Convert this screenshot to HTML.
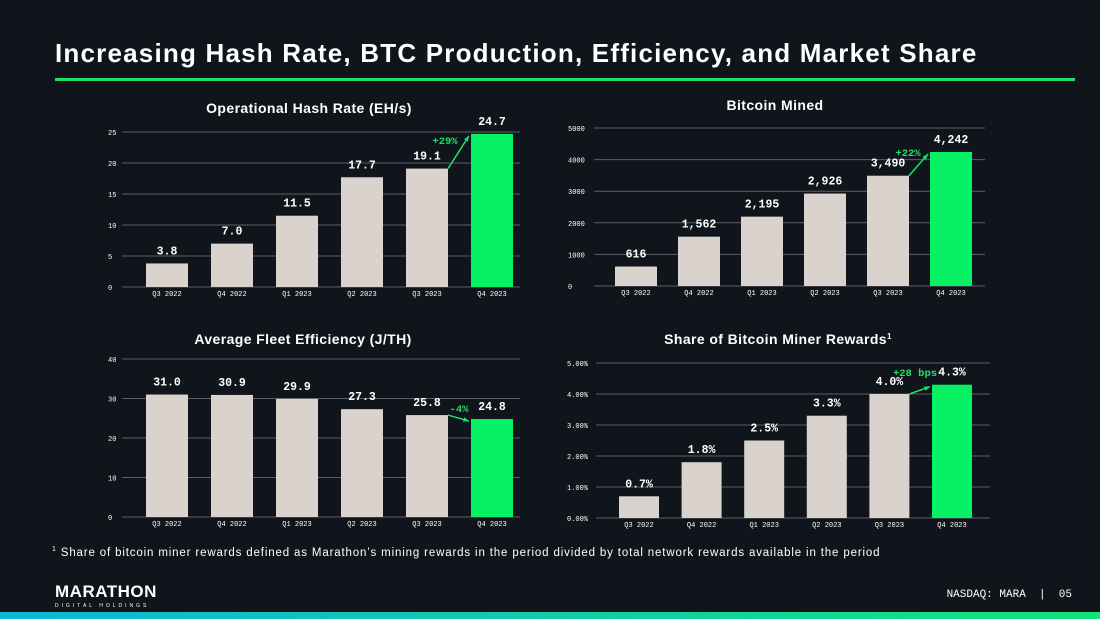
<!DOCTYPE html>
<html><head><meta charset="utf-8"><style>
body{margin:0;width:1100px;height:619px;background:#10151b;overflow:hidden;position:relative;font-family:"Liberation Sans",sans-serif}
#title{position:absolute;left:55px;top:38px;font-size:26px;font-weight:bold;color:#fff;margin:0;letter-spacing:1.2px;white-space:nowrap}
#rule{position:absolute;left:55px;top:78px;width:1020px;height:3px;background:#1fe06a}
#foot{position:absolute;left:52px;top:546px;font-size:11.5px;color:#fff;letter-spacing:0.85px;white-space:nowrap}
#logo{position:absolute;left:55px;top:585px;color:#fff;font-weight:bold;font-size:17px;letter-spacing:0.5px;line-height:14px}
#logo small{display:block;font-size:5px;letter-spacing:3px;font-weight:normal}
#nasdaq{position:absolute;right:28px;top:589px;color:#fff;font-family:"Liberation Mono",monospace;font-size:11px;white-space:pre}
#bar{position:absolute;left:0;top:612px;width:1100px;height:7px;background:linear-gradient(90deg,#10b5d8,#14e37a)}
svg{position:absolute;left:0;top:0}
</style></head><body>
<h1 id="title">Increasing Hash Rate, BTC Production, Efficiency, and Market Share</h1>
<div id="rule"></div>
<svg id="c" width="1100" height="619"></svg>
<div id="foot"><sup style="font-size:7px">1</sup> Share of bitcoin miner rewards defined as Marathon’s mining rewards in the period divided by total network rewards available in the period</div>
<div id="logo">MARATHON<small>DIGITAL HOLDINGS</small></div>
<div id="nasdaq">NASDAQ: MARA  |  05</div>
<div id="bar"></div>
<script>
const categories=["Q3 2022","Q4 2022","Q1 2023","Q2 2023","Q3 2023","Q4 2023"];
const hashRate=[3.8,7.0,11.5,17.7,19.1,24.7];
const hashLabels=["3.8","7.0","11.5","17.7","19.1","24.7"];
const hashTicks=[0,5,10,15,20,25];
const btcMined=[616,1562,2195,2926,3490,4242];
const btcLabels=["616","1,562","2,195","2,926","3,490","4,242"];
const btcTicks=[0,1000,2000,3000,4000,5000];
const efficiency=[31.0,30.9,29.9,27.3,25.8,24.8];
const effLabels=["31.0","30.9","29.9","27.3","25.8","24.8"];
const effTicks=[0,10,20,30,40];
const share=[0.7,1.8,2.5,3.3,4.0,4.3];
const shareLabels=["0.7%","1.8%","2.5%","3.3%","4.0%","4.3%"];
const shareTicks=[0,1,2,3,4,5];
const shareTickLabels=["0.00%","1.00%","2.00%","3.00%","4.00%","5.00%"];
const NS="http://www.w3.org/2000/svg";
const svg=document.getElementById('c');
function el(t,a,txt,parent){const e=document.createElementNS(NS,t);for(const k in a)e.setAttribute(k,a[k]);if(txt!==undefined)e.textContent=txt;(parent||svg).appendChild(e);return e;}
function chart(o){
 const y=v=>o.y0-(v-o.min)/(o.max-o.min)*(o.y0-o.y1);
 const x=i=>o.cx0+i*o.step;
 const t=el('text',{x:o.tx,y:o.ty,fill:'#fff','font-size':14,'font-weight':'bold','text-anchor':'middle','letter-spacing':0.4},o.title);
 
 
 if(o.sup){el('tspan',{'font-size':8,dy:-5},'1',t);}
 o.ticks.forEach((tv,i)=>{
  const g=el('line',{x1:o.gx0,x2:o.gx1,y1:y(tv),y2:y(tv),stroke:'#5a6068','stroke-width':1});
  
  
  const l=el('text',{x:o.lx,y:y(tv)+3,fill:'#fff','font-size':7,'font-family':'Liberation Mono,monospace'},o.tickLabels?o.tickLabels[i]:String(tv));
  
  
 });
 o.vals.forEach((v,i)=>{
  const last=i===o.vals.length-1;
  const b=el('rect',{x:x(i)-o.bw/2,y:y(v),width:o.bw,height:y(o.min)-y(v),fill:last?'#06f264':'#d9d2cd'});
  
  
  const vl=el('text',{x:x(i),y:y(v)-9,fill:'#fff','font-size':11.5,'font-weight':'bold','font-family':'Liberation Mono,monospace','text-anchor':'middle'},o.labels[i]);
  
  
  const cl=el('text',{x:x(i),y:y(o.min)+9,fill:'#fff','font-size':7,'font-family':'Liberation Mono,monospace','text-anchor':'middle'},categories[i]);
  
  
 });
 const n=o.vals.length;
 const ax=x(n-2)+o.bw/2, ay=y(o.vals[n-2]), bx=x(n-1)-o.bw/2-2, by=y(o.vals[n-1])+2;
 const ar=el('line',{x1:ax,y1:ay,x2:bx,y2:by,stroke:'#1fe06a','stroke-width':1.5});
 
 
 const ang=Math.atan2(by-ay,bx-ax);
 el('polygon',{points:`${bx},${by} ${bx-6*Math.cos(ang-0.4)},${by-6*Math.sin(ang-0.4)} ${bx-6*Math.cos(ang+0.4)},${by-6*Math.sin(ang+0.4)}`,fill:'#1fe06a'});
 const gl=el('text',{x:o.gx,y:o.gy,fill:'#1fe06a','font-size':10.5,'font-weight':'bold','font-family':'Liberation Mono,monospace','text-anchor':'middle'},o.growth);
 
 
}
chart({key:'hash-rate',title:'Operational Hash Rate (EH/s)',tx:309,ty:113,vals:hashRate,labels:hashLabels,ticks:hashTicks,min:0,max:25,y0:287,y1:132,cx0:167,step:65,bw:42,gx0:122,gx1:520,lx:108,growth:'+29%',gx:445,gy:144});
chart({key:'bitcoin-mined',title:'Bitcoin Mined',tx:775,ty:110,vals:btcMined,labels:btcLabels,ticks:btcTicks,min:0,max:5000,y0:286,y1:128,cx0:636,step:63,bw:42,gx0:594,gx1:985,lx:568,growth:'+22%',gx:908,gy:156});
chart({key:'fleet-efficiency',title:'Average Fleet Efficiency (J/TH)',tx:303,ty:344,vals:efficiency,labels:effLabels,ticks:effTicks,min:0,max:40,y0:517,y1:359,cx0:167,step:65,bw:42,gx0:122,gx1:520,lx:108,growth:'-4%',gx:459,gy:412});
chart({key:'reward-share',title:'Share of Bitcoin Miner Rewards',sup:true,tx:778,ty:344,vals:share,labels:shareLabels,ticks:shareTicks,tickLabels:shareTickLabels,min:0,max:5,y0:518,y1:363,cx0:639,step:62.6,bw:40,gx0:596,gx1:990,lx:567,growth:'+28 bps',gx:915,gy:376});
</script>
</body></html>
